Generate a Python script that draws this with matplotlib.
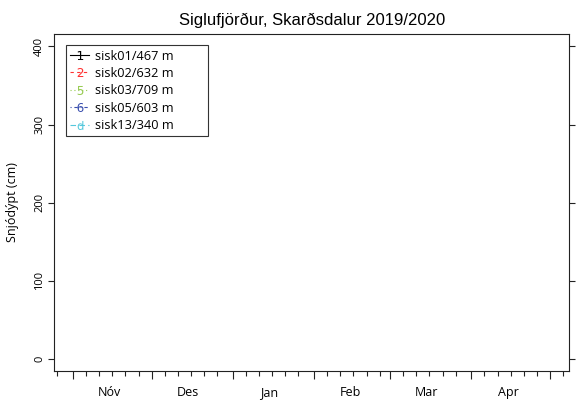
# Snjódýpt, Siglufjörður - Skarðsdalur 2019/2020
import numpy as np
import matplotlib
matplotlib.use('Agg')
import matplotlib.pyplot as plt
import matplotlib.dates as mdates
from datetime import date

# gögn: engar mælingar skráðar á tímabilinu
stodvar = ['sisk01', 'sisk02', 'sisk03', 'sisk05', 'sisk13']
haed = [467, 632, 709, 603, 340]
merki = ['1', '2', '5', '6', 'd']
dagar = [[], [], [], [], []]
snjodypt = [[], [], [], [], []]

manudir = ['Nóv', 'Des', 'Jan', 'Feb', 'Mar', 'Apr']
manudir_dags = [date(2019, 11, 15), date(2019, 12, 15), date(2020, 1, 15),
                date(2020, 2, 15), date(2020, 3, 15), date(2020, 4, 15)]
y_tics = [0, 100, 200, 300, 400]

titill = 'Siglufjörður, Skarðsdalur 2019/2020'

# útlit
litir = ['black', '#ff3333', '#99cc55', '#3a4fae', '#55c8dc']
linur = ['-', (0, (3, 3)), (0, (1, 2.5)), (0, (1, 2.5, 3, 2.5)), (0, (5, 3))]
letur = 'Open Sans'

fig = plt.figure(figsize=(5.76, 4.03), dpi=100)
ax = fig.add_axes([0.09375, 0.0794, 0.8941, 0.8362])

for i in range(len(stodvar)):
    x = mdates.date2num(dagar[i]) if dagar[i] else np.array([])
    ax.plot(x, snjodypt[i], color=litir[i], ls=linur[i], lw=0.8,
            marker='$\\mathregular{%s}$' % merki[i], markersize=6.5,
            markeredgewidth=0, label='%s/%d m' % (stodvar[i], haed[i]))

# R-stíll: 4% bil á ásum
x0 = mdates.date2num(date(2019, 11, 1))
x1 = mdates.date2num(date(2020, 5, 1))
dx = 0.04 * (x1 - x0)
ax.set_xlim(x0 - dx, x1 + dx)
ax.set_ylim(-16, 416)

ax.xaxis.set_major_locator(mdates.MonthLocator())
ax.xaxis.set_minor_locator(mdates.DayLocator(bymonthday=[6, 11, 16, 21, 26]))
ax.xaxis.set_major_formatter(plt.NullFormatter())
ax.tick_params(axis='x', which='major', length=5.8, width=0.8, direction='out',
               top=True, bottom=True, labelbottom=False, color='#222222')
ax.tick_params(axis='x', which='minor', length=3.6, width=0.8, direction='out',
               top=True, bottom=True, color='#222222')

ax.set_yticks(y_tics)
ax.tick_params(axis='y', length=4.3, width=0.8, direction='out', right=True,
               labelright=False, labelrotation=90, labelsize=8, pad=2,
               color='#222222')
for t in ax.get_yticklabels():
    t.set_fontfamily(letur)
    t.set_va('center')

for s in ax.spines.values():
    s.set_linewidth(0.8)
    s.set_color('#222222')

# mánaðaheiti um miðjan mánuð
ax2 = ax.twiny()
ax2.set_xlim(ax.get_xlim())
ax2.xaxis.set_ticks_position('bottom')
ax2.set_xticks(mdates.date2num(manudir_dags), manudir)
ax2.tick_params(axis='x', length=0, pad=11, labelsize=9, bottom=True, top=False,
                labelbottom=True, labeltop=False)
for t in ax2.get_xticklabels():
    t.set_fontfamily(letur)
for s in ax2.spines.values():
    s.set_visible(False)

ax.set_ylabel('Snjódýpt (cm)', fontfamily=letur, fontsize=9)
ax.yaxis.set_label_coords(-0.067, 0.5)

fig.text(0.5411, 0.938, titill, ha='center', va='baseline',
         fontfamily='Liberation Sans', fontsize=12)

leg = ax.legend(loc='upper left', bbox_to_anchor=(0.0227, 0.967, 0.2757, 0),
                mode='expand', borderaxespad=0,
                fancybox=False, framealpha=1, edgecolor='#333333',
                prop={'family': letur, 'size': 9.2}, handlelength=1.5,
                handletextpad=0.45, labelspacing=0.34, borderpad=0.35, numpoints=1)
leg.get_frame().set_linewidth(0.8)

fig.savefig('out.png', dpi=100)
